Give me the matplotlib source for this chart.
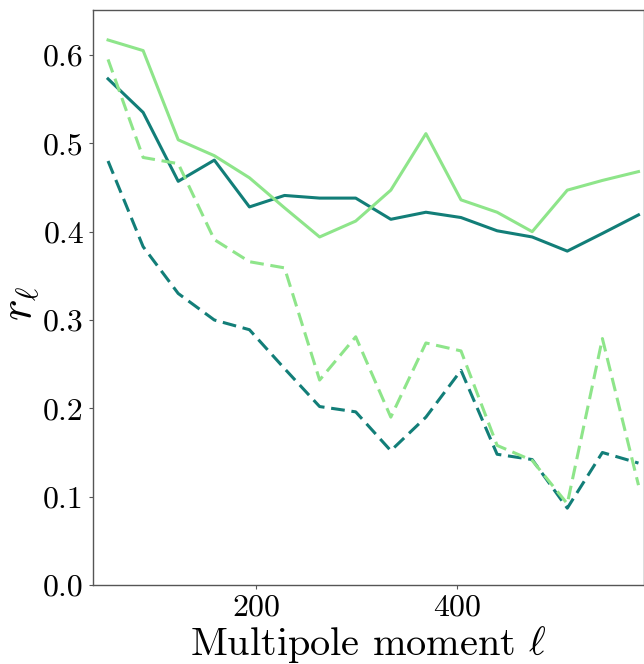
import numpy as np
import matplotlib
matplotlib.use('Agg')
import matplotlib.pyplot as plt

plt.rcParams['font.family'] = 'serif'
plt.rcParams['font.serif'] = ['cmr10']
plt.rcParams['mathtext.fontset'] = 'cm'
plt.rcParams['axes.formatter.use_mathtext'] = True
plt.rcParams['axes.unicode_minus'] = False

# Bin centres in multipole moment
ell = np.array([52, 87, 122, 158, 193, 228, 263, 299, 334, 369,
                404, 440, 475, 510, 545, 581])

# Correlation coefficient r_ell for the two runs (solid / dashed)
r_dark_solid = [0.573, 0.535, 0.457, 0.481, 0.428, 0.441, 0.438, 0.438,
                0.414, 0.422, 0.416, 0.401, 0.394, 0.378, 0.398, 0.419]
r_light_solid = [0.617, 0.605, 0.504, 0.486, 0.461, 0.427, 0.394, 0.412,
                 0.447, 0.511, 0.436, 0.422, 0.400, 0.447, 0.458, 0.468]
r_dark_dash = [0.480, 0.383, 0.330, 0.300, 0.289, 0.245, 0.202, 0.196,
               0.152, 0.190, 0.243, 0.148, 0.142, 0.087, 0.150, 0.138]
r_light_dash = [0.595, 0.484, 0.477, 0.391, 0.366, 0.359, 0.232, 0.281,
                0.190, 0.274, 0.265, 0.158, 0.141, 0.092, 0.279, 0.113]

c_dark = '#127e78'
c_light = '#8ee58a'

fig = plt.figure(figsize=(6.44, 6.64), dpi=100)
ax = fig.add_axes([0.1444, 0.119, 0.8556, 0.866])

ax.plot(ell, r_dark_solid, '-', color=c_dark, lw=2.2)
ax.plot(ell, r_light_solid, '-', color=c_light, lw=2.2)
ax.plot(ell, r_dark_dash, '--', color=c_dark, lw=2.2, dashes=(4.5, 2.2))
ax.plot(ell, r_light_dash, '--', color=c_light, lw=2.2, dashes=(4.5, 2.2))

ax.set_xlim(37, 586.5)
ax.set_ylim(0, 0.651)
ax.set_xticks([200, 400])
ax.set_yticks([0.0, 0.1, 0.2, 0.3, 0.4, 0.5, 0.6])
ax.set_yticklabels(['0.0', '0.1', '0.2', '0.3', '0.4', '0.5', '0.6'])
ax.tick_params(labelsize=23, length=3, width=0.8, color='#555555')
for s in ax.spines.values():
    s.set_color('#555555')
    s.set_linewidth(1.0)

ax.set_xlabel(r'Multipole moment $\ell$', fontsize=29, labelpad=2)
ax.set_ylabel(r'$r_\ell$', fontsize=33)
ax.yaxis.set_label_coords(-0.092, 0.49)

fig.savefig('out.png', dpi=100)
